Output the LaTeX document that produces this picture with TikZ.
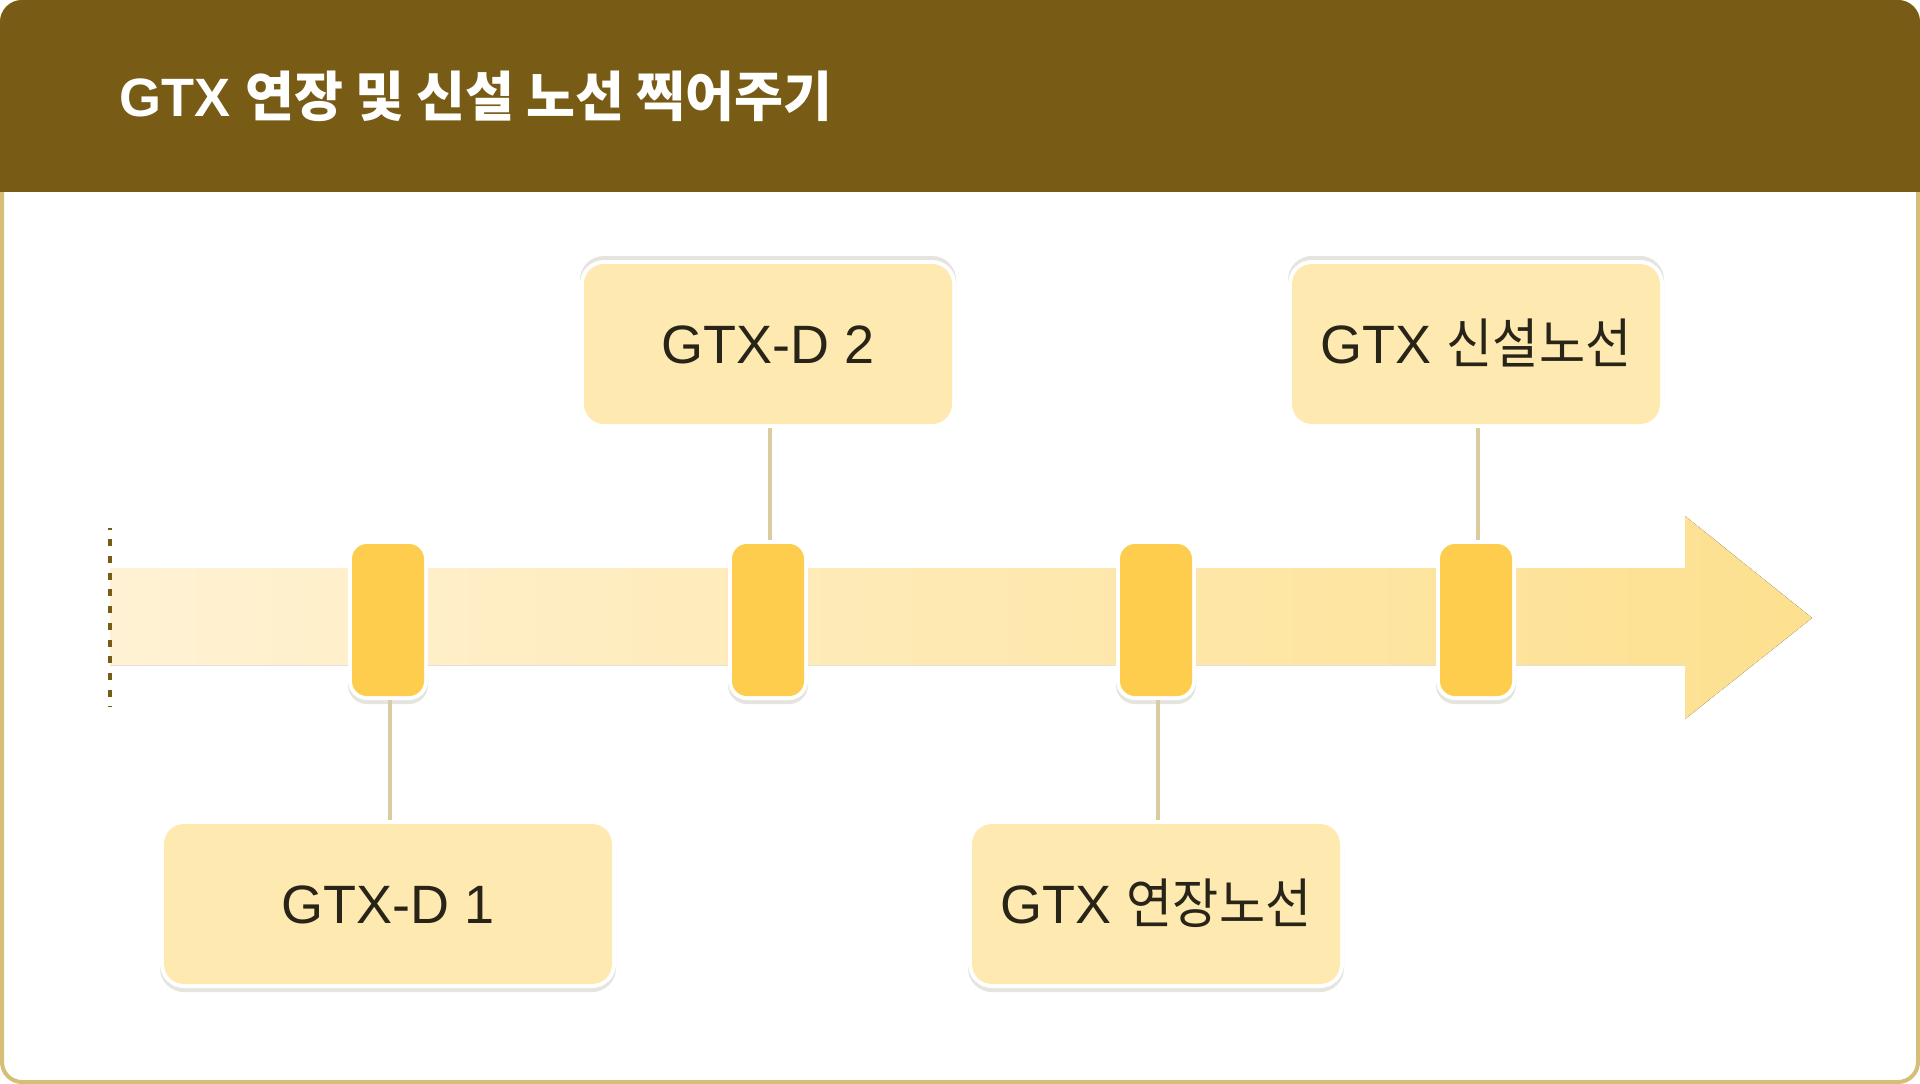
\documentclass[tikz,border=0pt]{standalone}
\usepackage{fontspec}
\setmainfont{Liberation Sans}
\newfontfamily\kr[FakeStretch=0.93]{Noto Sans CJK KR}
\newfontfamily\krt[FakeStretch=0.985]{Noto Sans CJK KR}
\definecolor{headc}{RGB}{120,92,21}
\definecolor{framec}{RGB}{214,190,118}
\definecolor{boxc}{RGB}{254,233,176}
\definecolor{markc}{RGB}{254,205,77}
\definecolor{connc}{RGB}{218,204,160}
\definecolor{shadc}{RGB}{230,228,222}
\definecolor{textc}{RGB}{40,36,24}
\definecolor{bandl}{RGB}{255,242,212}
\definecolor{bandr}{RGB}{253,224,143}
\tikzset{
  whiteedge/.style={preaction={draw=white, line width=8pt}},
  markerbox/.style={rectangle, rounded corners=15pt, minimum width=72pt, minimum height=152pt,
    inner sep=0pt, outer sep=4pt, fill=markc,
    preaction={fill=shadc, draw=shadc, line width=8pt, transform canvas={yshift=-4pt}},
    whiteedge},
  labelbox/.style={rectangle, rounded corners=20pt, minimum width=368pt, minimum height=160pt,
    inner sep=0pt, outer sep=4pt, fill=boxc, text=textc,
    font=\fontsize{54}{60}\selectfont, text height=38.7pt, text depth=0pt},
  upshadow/.style={preaction={fill=shadc, draw=shadc, line width=8pt, transform canvas={yshift=4pt}}, whiteedge},
  downshadow/.style={preaction={fill=shadc, draw=shadc, line width=8pt, transform canvas={yshift=-4pt}}, whiteedge},
  conn/.style={draw=connc, line width=3.3pt},
  dotline/.style={draw=headc, line width=4pt, dash pattern=on 7pt off 9.7pt, dash phase=5.4pt},
}
\begin{document}
\begin{tikzpicture}[x=1pt,y=-1pt]
\useasboundingbox (0,0) rectangle (1920,1084);
\fill[white] (0,0) rectangle (1920,1084);
% frame
\draw[framec, line width=4pt, fill=white, rounded corners=20pt] (2,2) rectangle (1918,1082);
\begin{scope}
  \clip[rounded corners=22pt] (0,0) rectangle (1920,1084);
  \fill[headc] (0,0) rectangle (1920,192);
\end{scope}
\node[anchor=base west, text=white, inner sep=0pt, font=\fontsize{54}{60}\selectfont\bfseries] (title) at (119,116) {GTX {\krt 연장 및 신설 노선 찍어주기}};
% timeline band with arrow head
\fill[left color=bandl, right color=bandr] (110,568) -- (1685,568) -- (1685,516) -- (1812,618) -- (1685,719) -- (1685,665) -- (110,665) -- cycle;
\coordinate (dtop) at (110,528);
\coordinate (dbot) at (110,707);
\draw[dotline] (dtop) -- (dbot);
% markers
\node[markerbox] (m1) at (388,620) {};
\node[markerbox] (m2) at (768,620) {};
\node[markerbox] (m3) at (1156,620) {};
\node[markerbox] (m4) at (1476,620) {};
% boxes
\node[labelbox, upshadow] (b2) at (768,344) {GTX-D 2};
\node[labelbox, upshadow] (b3) at (1476,344) {GTX {\kr 신설노선}};
\node[labelbox, downshadow, minimum width=448pt] (b1) at (388,904) {GTX-D 1};
\node[labelbox, downshadow] (b4) at (1156,904) {GTX {\kr 연장노선}};
% connectors
\draw[conn] ([xshift=2pt]b2.south) -- ([xshift=2pt]m2.north);
\draw[conn] ([xshift=2pt]b3.south) -- ([xshift=2pt]m4.north);
\draw[conn] ([xshift=2pt]m1.south) -- ([xshift=2pt]b1.north);
\draw[conn] ([xshift=2pt]m3.south) -- ([xshift=2pt]b4.north);
\end{tikzpicture}
\end{document}
